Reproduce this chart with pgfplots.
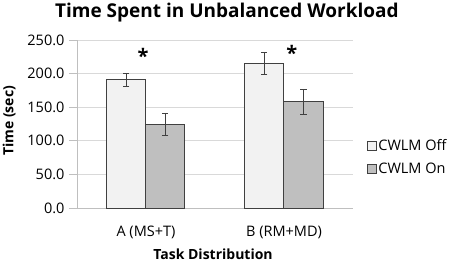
\documentclass[border=0pt]{standalone}
\usepackage{pgfplots}
\pgfplotsset{compat=1.18}
\usepackage{fontspec}
\setmainfont{Open Sans}
\definecolor{offfill}{HTML}{F2F2F2}
\definecolor{onfill}{HTML}{BFBFBF}
\definecolor{bardraw}{HTML}{404040}
\definecolor{gridgray}{HTML}{D9D9D9}
\definecolor{axisgray}{HTML}{BFBFBF}
\begin{document}
\begin{tikzpicture}
\begin{axis}[
  scale only axis, width=276bp, height=168bp,
  ymin=0, ymax=250, ytick={0,50,...,250},
  xmin=-0.5, xmax=1.5,
  xtick={0,1}, xticklabels={A (MS+T), B (RM+MD)},
  ybar=0pt, bar width=39bp,
  axis x line*=bottom, axis y line*=left,
  axis line style={draw=axisgray, line width=0.8bp},
  y axis line style={-}, x axis line style={-},
  ymajorgrids, grid style={draw=gridgray, line width=0.8bp},
  xtick style={draw=none},
  ytick style={draw=axisgray, line width=0.8bp},
  tick align=outside, major tick length=8bp,
  extra x ticks={-0.5,0.5,1.5}, extra x tick labels={},
  extra x tick style={major tick length=7bp, tick style={draw=axisgray, line width=0.8bp}, grid=none},
  /pgf/number format/.cd, fixed, fixed zerofill, precision=1, assume math mode=true,
  /pgfplots/.cd,
  tick label style={font=\fontsize{14.5bp}{17bp}\selectfont, text=black},
  yticklabel style={xshift=-1bp},
  xticklabel style={anchor=base, yshift=-20bp},
  xlabel={\bfseries Task Distribution},
  xlabel style={font=\fontsize{14bp}{16bp}\selectfont, at={(rel axis cs:0.493,-0.304)}, anchor=base, inner sep=0pt},
  ylabel={\bfseries Time (sec)},
  ylabel style={font=\fontsize{14bp}{16bp}\selectfont, at={(rel axis cs:-0.246,0.518)}, anchor=center, rotate=0, inner sep=0pt},
  legend style={at={(rel axis cs:1.051,0.304)}, anchor=west, draw=none, fill=none,
    font=\fontsize{14.5bp}{17bp}\selectfont, row sep=8bp, inner sep=0pt,
    nodes={inner sep=1.5bp}},
  legend cell align=left,
  error bars/y dir=both, error bars/y explicit,
  error bars/error bar style={line width=0.6bp, draw=black!75},
  error bars/error mark options={rotate=90, mark size=3bp, line width=0.6bp, draw=black!75},
  clip=false,
]
\addplot[fill=offfill, draw=bardraw, line width=1bp,
  legend image code/.code={\draw[fill=offfill, draw=bardraw, line width=0.6bp] (0bp,-4.5bp) rectangle (9bp,4.5bp);}]
  coordinates {(0,190.5) +- (0,9.5) (1,215.3) +- (0,15.8)};
\addplot[fill=onfill, draw=bardraw, line width=1bp,
  legend image code/.code={\draw[fill=onfill, draw=bardraw, line width=0.6bp] (0bp,-4.5bp) rectangle (9bp,4.5bp);}]
  coordinates {(0,124.8) +- (0,16.8) (1,158.2) +- (0,18.8)};
\legend{CWLM Off, CWLM On}
\node[anchor=north, inner sep=0pt, font=\fontsize{20bp}{22bp}\selectfont\bfseries] at (axis cs:-0.022,238) {*};
\node[anchor=north, inner sep=0pt, font=\fontsize{20bp}{22bp}\selectfont\bfseries] at (axis cs:1.056,242.5) {*};
\node[anchor=base, inner sep=0pt, font=\fontsize{19bp}{23bp}\selectfont\bfseries] at (rel axis cs:0.543,1.134) {Time Spent in Unbalanced Workload};
\coordinate (bl) at (rel axis cs:0,0);
\coordinate (tr) at (rel axis cs:1,1);
\end{axis}
\pgfresetboundingbox
\path[use as bounding box] ([shift={(-77bp,-55bp)}]bl) rectangle ([shift={(101bp,40bp)}]tr);
\end{tikzpicture}
\end{document}
